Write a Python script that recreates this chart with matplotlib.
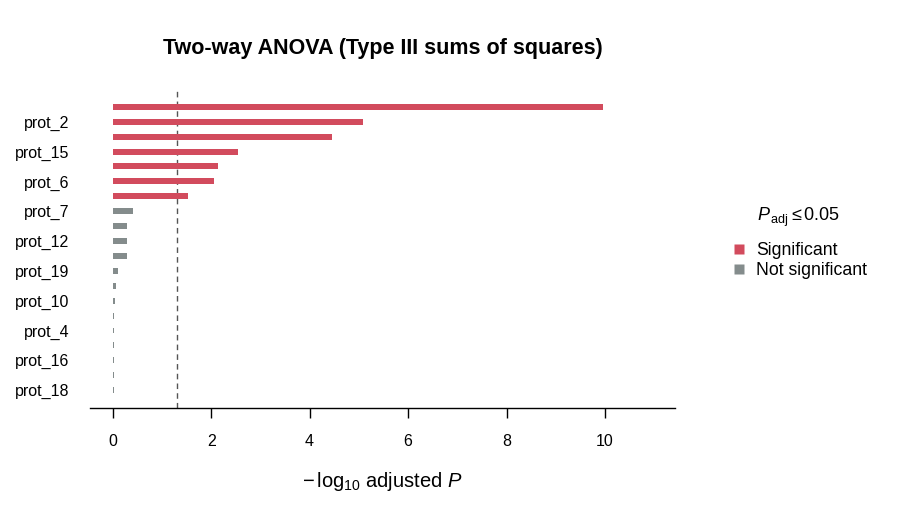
import math
import matplotlib
matplotlib.use("Agg")
import matplotlib.pyplot as plt
from matplotlib.lines import Line2D

plt.rcParams["font.family"] = ["Liberation Sans", "DejaVu Sans"]
plt.rcParams["mathtext.fontset"] = "custom"
plt.rcParams["mathtext.rm"] = "Liberation Sans"
plt.rcParams["mathtext.it"] = "Liberation Sans:italic"
plt.rcParams["mathtext.bf"] = "Liberation Sans:bold"

# Data (top to bottom), -log10 adjusted P
proteins = ["prot_9", "prot_2", "prot_13", "prot_15", "prot_1", "prot_6",
            "prot_11", "prot_7", "prot_3", "prot_12", "prot_5", "prot_19",
            "prot_8", "prot_10", "prot_14", "prot_4", "prot_17", "prot_16",
            "prot_20", "prot_18"]
neglog_p = [9.96, 5.09, 4.46, 2.55, 2.13, 2.05, 1.52, 0.42, 0.30, 0.30,
            0.30, 0.10, 0.07, 0.055, 0.025, 0.025, 0.024, 0.024, 0.024, 0.024]
alpha = 0.05

RED = "#D24B5D"
GREY = "#848C8C"

threshold = -math.log10(alpha)
colors = [RED if v >= threshold else GREY for v in neglog_p]
ypos = list(range(len(proteins)))

fig = plt.figure(figsize=(9, 5.2), dpi=100)
ax = fig.add_axes([0.1, 0.215, 0.65, 0.616])

ax.barh(ypos, neglog_p, height=0.4, color=colors, zorder=2)
ax.axvline(threshold, color="#555555", lw=1, ls=(0, (4, 3)), zorder=1)

ax.set_xlim(-0.46, 11.42)
ax.set_ylim(len(proteins) - 1 + 1.21, -1.27)

ax.set_yticks(ypos[1::2])
ax.set_yticklabels(proteins[1::2], fontsize=11.5)
ax.tick_params(axis="y", length=0, pad=15)

ax.set_xticks([0, 2, 4, 6, 8, 10])
ax.tick_params(axis="x", length=7.5, width=1, labelsize=11.5, pad=11)

for s in ["top", "right", "left"]:
    ax.spines[s].set_visible(False)
ax.spines["bottom"].set_linewidth(1)

ax.set_xlabel(r"$-\,\mathrm{log}_{10}$ adjusted $P$", fontsize=14.5, labelpad=15)
fig.suptitle("Two-way ANOVA (Type III sums of squares)", fontsize=15.5,
             fontweight="bold", x=0.425, y=0.927)

handles = [Line2D([], [], marker="s", color="none", markerfacecolor=RED,
                  markeredgecolor="none", markersize=7, label="Significant"),
           Line2D([], [], marker="s", color="none", markerfacecolor=GREY,
                  markeredgecolor="none", markersize=7, label="Not significant")]
leg = fig.legend(handles=handles, title=r"$P_{\,\mathrm{adj}} \leq 0.05$",
                 loc="upper left", bbox_to_anchor=(0.801, 0.622), frameon=False,
                 fontsize=12.7, title_fontsize=13, handletextpad=0.5,
                 labelspacing=0.15, handlelength=1.0, borderpad=0)
leg._legend_box.sep = 10

fig.savefig("out.png", dpi=100)
